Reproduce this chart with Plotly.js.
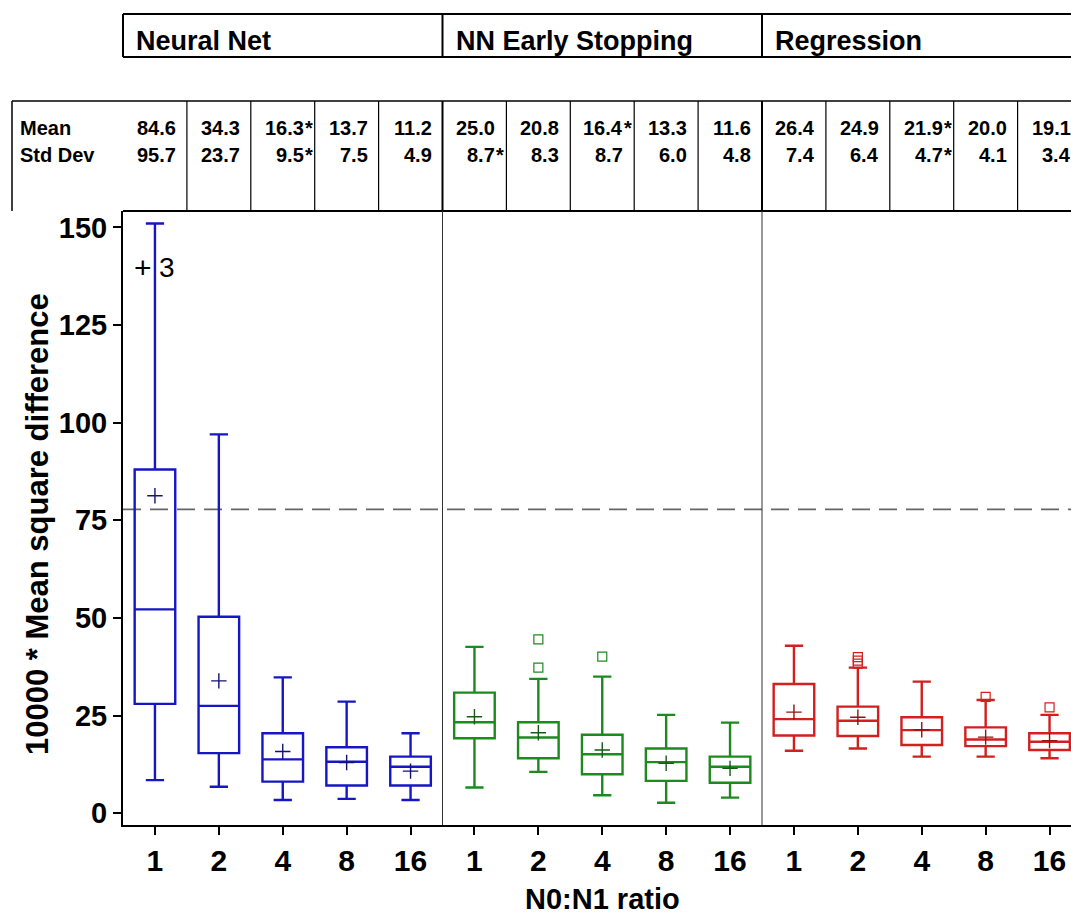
<!DOCTYPE html>
<html>
<head>
<meta charset="utf-8">
<script src="https://cdn.plot.ly/plotly-3.0.1.min.js"></script>
<style>
html,body{margin:0;padding:0;background:#fff;overflow:hidden;}
#chart{width:1071px;height:920px;}
</style>
</head>
<body>
<div id="chart"></div>
<script>
// ---- data ----
const groups = ['Neural Net', 'NN Early Stopping', 'Regression'];
const ratios = ['1', '2', '4', '8', '16'];

const nnLo   = [8.5, 6.8, 3.4, 3.7, 3.4];
const nnQ1   = [28.0, 15.4, 8.1, 7.1, 7.1];
const nnMed  = [52.2, 27.5, 13.8, 13.2, 11.9];
const nnQ3   = [88.0, 50.3, 20.5, 16.9, 14.5];
const nnHi   = [151, 97.0, 34.8, 28.6, 20.5];
const nnMean = [81.3, 33.9, 15.8, 13.0, 10.8];

const esLo   = [6.6, 10.6, 4.6, 2.7, 4.0];
const esQ1   = [19.2, 14.1, 10.0, 8.3, 7.8];
const esMed  = [23.3, 19.4, 15.1, 13.1, 11.9];
const esQ3   = [30.9, 23.3, 20.1, 16.6, 14.5];
const esHi   = [42.6, 34.4, 35.0, 25.2, 23.2];
const esMean = [24.7, 20.6, 16.2, 12.8, 11.5];
const esOutIdx = [1, 1, 2];
const esOutVal = [44.5, 37.3, 40.1];

const regLo   = [16.0, 16.6, 14.5, 14.5, 14.1];
const regQ1   = [19.9, 19.8, 17.5, 17.2, 16.2];
const regMed  = [24.1, 23.7, 21.3, 18.9, 18.3];
const regQ3   = [33.1, 27.3, 24.6, 22.0, 20.5];
const regHi   = [42.9, 37.3, 33.7, 29.0, 25.2];
const regMean = [25.9, 24.6, 21.4, 19.5, 18.6];
const regOutIdx = [1, 1, 1, 3, 4];
const regOutVal = [40.0, 39.1, 38.3, 29.8, 27.1];

const nnMeanTxt  = ['84.6', '34.3', '16.3*', '13.7', '11.2'];
const nnSdTxt    = ['95.7', '23.7', '9.5*', '7.5', '4.9'];
const esMeanTxt  = ['25.0', '20.8', '16.4*', '13.3', '11.6'];
const esSdTxt    = ['8.7*', '8.3', '8.7', '6.0', '4.8'];
const regMeanTxt = ['26.4', '24.9', '21.9*', '20.0', '19.1'];
const regSdTxt   = ['7.4', '6.4', '4.7*', '4.1', '3.4'];

const refLine = 77.8;
const offscaleCount = '3';
const yTitle = '10000 * Mean square difference';
const xTitle = 'N0:N1 ratio';

// ---- styling ----
const FONT = '"Liberation Sans", Arial, Helvetica, sans-serif';
const colors = ['#1616c4', '#1d8a1d', '#d21f1f'];
const meanColors = ['#12127a', '#155a15', '#8c1414'];

const stats = [
  {lo: nnLo, q1: nnQ1, med: nnMed, q3: nnQ3, hi: nnHi, mean: nnMean, oi: [], ov: [], mt: nnMeanTxt, st: nnSdTxt},
  {lo: esLo, q1: esQ1, med: esMed, q3: esQ3, hi: esHi, mean: esMean, oi: esOutIdx, ov: esOutVal, mt: esMeanTxt, st: esSdTxt},
  {lo: regLo, q1: regQ1, med: regMed, q3: regQ3, hi: regHi, mean: regMean, oi: regOutIdx, ov: regOutVal, mt: regMeanTxt, st: regSdTxt}
];

const pos = (g, i) => g * ratios.length + i;

const traces = [];
stats.forEach((s, g) => {
  const xs = ratios.map((r, i) => pos(g, i));
  traces.push({
    type: 'box', x: xs, q1: s.q1, median: s.med, q3: s.q3,
    lowerfence: s.lo, upperfence: s.hi,
    width: 0.635, whiskerwidth: 0.45, boxpoints: false,
    line: {color: colors[g], width: 2.4}, fillcolor: 'rgba(0,0,0,0)',
    showlegend: false, hoverinfo: 'skip'
  });
  traces.push({
    type: 'scatter', mode: 'markers', x: xs, y: s.mean,
    marker: {symbol: 'cross-thin', size: 11, color: meanColors[g], line: {color: meanColors[g], width: 1.4}},
    showlegend: false, hoverinfo: 'skip', cliponaxis: false
  });
  if (s.oi.length) {
    traces.push({
      type: 'scatter', mode: 'markers', x: s.oi.map(i => pos(g, i)), y: s.ov,
      marker: {symbol: 'square-open', size: 9, color: colors[g], line: {color: colors[g], width: 1.2}},
      showlegend: false, hoverinfo: 'skip'
    });
  }
});

// ---- layout geometry helpers (pixel -> paper) ----
const T = 211, B = 825, L = 123, W = 948, H = B - T;
const py = p => (B - p) / H;
const pxp = p => (p - L) / W;

const shapes = [];
const annotations = [];
const nCat = groups.length * ratios.length;

// dashed reference line
shapes.push({type: 'line', xref: 'paper', yref: 'y', x0: 0, x1: 1, y0: refLine, y1: refLine,
  line: {color: '#666', width: 1.6, dash: '18px,9px'}, layer: 'below'});
// plot top border
shapes.push({type: 'line', xref: 'paper', yref: 'paper', x0: 0, x1: 1.2, y0: 1, y1: 1, line: {color: '#000', width: 2}});
// group dividers in plot
for (let g = 1; g < groups.length; g++) {
  shapes.push({type: 'line', xref: 'x', yref: 'paper', x0: pos(g, 0) - 0.5, x1: pos(g, 0) - 0.5, y0: 0, y1: 1,
    line: {color: '#333', width: 1}});
}
// header box
shapes.push({type: 'line', xref: 'paper', yref: 'paper', x0: 0, x1: 1.2, y0: py(14), y1: py(14), line: {color: '#000', width: 2}});
shapes.push({type: 'line', xref: 'paper', yref: 'paper', x0: 0, x1: 1.2, y0: py(57), y1: py(57), line: {color: '#000', width: 2}});
shapes.push({type: 'line', xref: 'paper', yref: 'paper', x0: 0, x1: 0, y0: py(14), y1: py(57), line: {color: '#000', width: 2}});
for (let g = 1; g < groups.length; g++) {
  shapes.push({type: 'line', xref: 'x', yref: 'paper', x0: pos(g, 0) - 0.5, x1: pos(g, 0) - 0.5, y0: py(14), y1: py(57),
    line: {color: '#000', width: 2}});
}
groups.forEach((name, g) => {
  annotations.push({xref: 'x', yref: 'paper', x: pos(g, 0) - 0.5, y: py(41), xanchor: 'left', yanchor: 'middle',
    xshift: 11, text: name, showarrow: false, font: {family: FONT, size: 27, weight: 'bold', color: '#000'}});
});
// stats table
shapes.push({type: 'line', xref: 'paper', yref: 'paper', x0: pxp(12), x1: 1.2, y0: py(101), y1: py(101), line: {color: '#000', width: 1.5}});
shapes.push({type: 'line', xref: 'paper', yref: 'paper', x0: pxp(12), x1: pxp(12), y0: py(101), y1: 1, line: {color: '#000', width: 1.5}});
for (let k = 0; k < nCat - 1; k++) {
  const isGroup = (k + 1) % ratios.length === 0;
  shapes.push({type: 'line', xref: 'x', yref: 'paper', x0: k + 0.5, x1: k + 0.5, y0: py(101), y1: 1,
    line: {color: '#000', width: isGroup ? 2 : 1.2}});
}
const cellFont = {family: FONT, size: 20, weight: 'bold', color: '#000'};
annotations.push({xref: 'paper', yref: 'paper', x: pxp(18), y: py(128), xanchor: 'left', yanchor: 'middle',
  text: 'Mean', showarrow: false, font: cellFont});
annotations.push({xref: 'paper', yref: 'paper', x: pxp(18), y: py(155), xanchor: 'left', yanchor: 'middle',
  text: 'Std Dev', showarrow: false, font: cellFont});
function cell(x, yPix, txt) {
  const star = txt.endsWith('*');
  const num = star ? txt.slice(0, -1) : txt;
  annotations.push({xref: 'x', yref: 'paper', x: x, y: py(yPix), xanchor: 'right', yanchor: 'middle',
    xshift: 23, text: num, showarrow: false, font: cellFont});
  if (star) {
    annotations.push({xref: 'x', yref: 'paper', x: x, y: py(yPix), xanchor: 'left', yanchor: 'middle',
      xshift: 20, text: '*', showarrow: false, font: cellFont});
  }
}
stats.forEach((s, g) => {
  ratios.forEach((r, i) => {
    cell(pos(g, i), 128, s.mt[i]);
    cell(pos(g, i), 155, s.st[i]);
  });
});
// off-scale count marker
annotations.push({xref: 'x', yref: 'y', x: pos(0, 0), y: 139.8, xanchor: 'center', yanchor: 'middle', xshift: -12,
  text: '+', showarrow: false, font: {family: FONT, size: 30, color: '#000'}});
annotations.push({xref: 'x', yref: 'y', x: pos(0, 0), y: 139.8, xanchor: 'center', yanchor: 'middle', xshift: 12,
  text: offscaleCount, showarrow: false, font: {family: FONT, size: 28, color: '#000'}});
// y-axis title
annotations.push({xref: 'paper', yref: 'paper', x: pxp(37), y: py(524), xanchor: 'center', yanchor: 'middle',
  textangle: -90, text: yTitle, showarrow: false, font: {family: FONT, size: 31, weight: 'bold', color: '#000'}});
// x-axis title
annotations.push({xref: 'paper', yref: 'paper', x: pxp(602), y: py(899), xanchor: 'center', yanchor: 'middle',
  text: xTitle, showarrow: false, font: {family: FONT, size: 29, weight: 'bold', color: '#000'}});

const tickvals = [];
const ticktext = [];
groups.forEach((gname, g) => ratios.forEach((r, i) => { tickvals.push(pos(g, i)); ticktext.push(r); }));

const layout = {
  width: 1071, height: 920,
  margin: {l: L, r: 0, t: T, b: 920 - B, pad: 0},
  paper_bgcolor: '#fff', plot_bgcolor: '#fff',
  font: {family: FONT, color: '#000'},
  showlegend: false,
  xaxis: {
    range: [-0.5, -0.5 + W / 63.9], tickmode: 'array', tickvals: tickvals, ticktext: ticktext,
    tickfont: {family: FONT, size: 30, weight: 'bold', color: '#000'},
    ticks: 'outside', ticklen: 8, tickwidth: 2, tickcolor: '#000',
    showline: true, linewidth: 2, linecolor: '#000', showgrid: false, zeroline: false
  },
  yaxis: {
    range: [-3, 154.2], tickmode: 'array', tickvals: [0, 25, 50, 75, 100, 125, 150],
    tickfont: {family: FONT, size: 29, weight: 'bold', color: '#000'},
    ticks: 'outside', ticklen: 8, tickwidth: 2, tickcolor: '#000',
    showline: true, linewidth: 2, linecolor: '#000', showgrid: false, zeroline: false
  },
  shapes: shapes,
  annotations: annotations
};

Plotly.newPlot('chart', traces, layout, {staticPlot: true, displayModeBar: false});
</script>
</body>
</html>
